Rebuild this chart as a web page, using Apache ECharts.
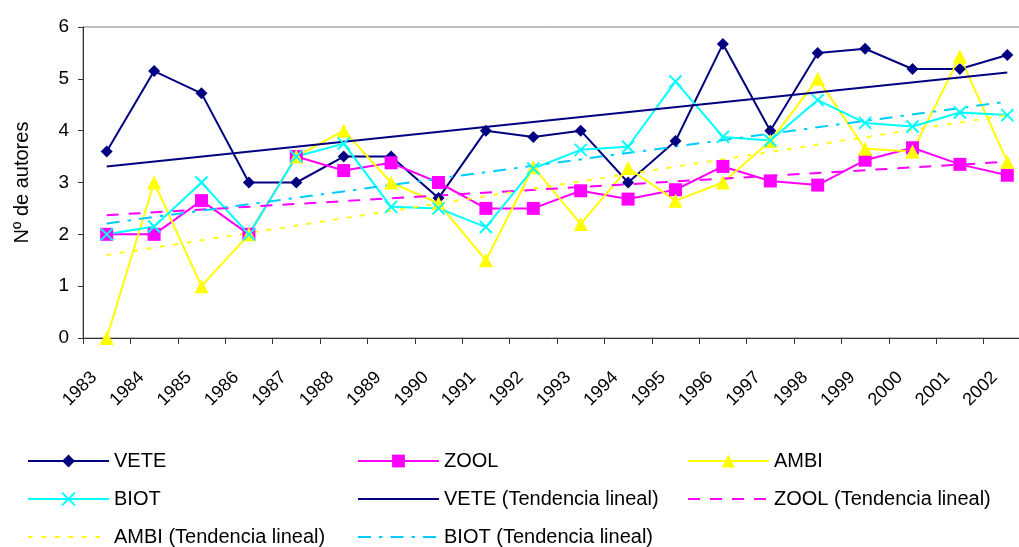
<!DOCTYPE html>
<html>
<head>
<meta charset="utf-8">
<script src="https://cdn.jsdelivr.net/npm/echarts@6/dist/echarts.min.js"></script>
<style>
html,body{margin:0;padding:0;background:#fff;}
#chart{width:1019px;height:547px;}
</style>
</head>
<body>
<div id="chart"></div>
<script>
var years = ['1983','1984','1985','1986','1987','1988','1989','1990','1991','1992','1993','1994','1995','1996','1997','1998','1999','2000','2001','2002'];
var vete = [3.6, 5.15, 4.72, 3.0, 3.0, 3.5, 3.5, 2.7, 4.0, 3.88, 4.0, 3.0, 3.8, 5.67, 4.0, 5.5, 5.58, 5.19, 5.19, 5.46];
var zool = [2.0, 2.0, 2.65, 2.0, 3.5, 3.23, 3.38, 3.0, 2.5, 2.5, 2.84, 2.68, 2.86, 3.31, 3.03, 2.95, 3.43, 3.67, 3.35, 3.14];
var ambi = [0.0, 3.0, 1.0, 2.0, 3.5, 4.0, 3.0, 2.6, 1.5, 3.3, 2.2, 3.28, 2.65, 3.0, 3.8, 5.0, 3.65, 3.6, 5.43, 3.4];
var biot = [2.0, 2.15, 3.0, 2.0, 3.5, 3.75, 2.53, 2.5, 2.14, 3.27, 3.63, 3.69, 4.95, 3.88, 3.81, 4.59, 4.15, 4.08, 4.35, 4.3];
// trend line end points (1983, 2002)
var veteTrend = [3.31, 5.12];
var zoolTrend = [2.37, 3.40];
var ambiTrend = [1.60, 4.30];
var biotTrend = [2.21, 4.56];
var yTicks = {min: 0, max: 6, interval: 1};
var seriesNames = ['VETE','ZOOL','AMBI','BIOT','VETE (Tendencia lineal)','ZOOL (Tendencia lineal)','AMBI (Tendencia lineal)','BIOT (Tendencia lineal)'];

var FONT = '"Liberation Sans", Arial, sans-serif';
function trend(pair){ return [[0, pair[0]], [years.length - 1, pair[1]]]; }

var legendCols = [27, 357, 687];
var legendRows = [461, 499, 537];
var legends = seriesNames.map(function(n, i){
  var isTrend = i >= 4;
  return {
    data: [n],
    left: legendCols[i % 3],
    top: legendRows[Math.floor(i / 3)] - 10,
    orient: 'horizontal',
    padding: 0,
    itemWidth: 81,
    itemHeight: 16,
    itemGap: 0,
    selectedMode: false,
    itemStyle: isTrend ? {opacity: 0} : {},
    textStyle: {fontFamily: FONT, fontSize: 20, color: '#000', padding: [0,0,0,0]}
  };
});

var xSym = 'path://M0,0L10,10M10,0L0,10';

var option = {
  animation: false,
  backgroundColor: '#fff',
  grid: {left: 83, top: 27, right: -12, bottom: 209, show: true, borderColor: '#808080', borderWidth: 1,
         containLabel: false, outerBoundsMode: 'none'},
  legend: legends,
  xAxis: {
    type: 'category',
    data: years,
    boundaryGap: true,
    axisLine: {show: true, lineStyle: {color: '#333', width: 1}},
    axisTick: {show: true, length: 6, lineStyle: {color: '#333'}},
    axisLabel: {rotate: 45, interval: 0, margin: 24, padding: [0, 18, 0, 0], fontFamily: FONT, fontSize: 18, color: '#000'},
    splitLine: {show: false}
  },
  yAxis: {
    type: 'value',
    min: yTicks.min, max: yTicks.max, interval: yTicks.interval,
    name: 'Nº de autores',
    nameLocation: 'middle',
    nameGap: 51,
    nameTextStyle: {fontFamily: FONT, fontSize: 20, color: '#000'},
    axisLine: {show: true, lineStyle: {color: '#333', width: 1}},
    axisTick: {show: true, length: 5, lineStyle: {color: '#333'}},
    axisLabel: {margin: 14, fontFamily: FONT, fontSize: 19, color: '#000'},
    splitLine: {show: false}
  },
  series: [
    {name: 'VETE', type: 'line', data: vete, symbol: 'diamond', symbolSize: 12, showAllSymbol: true,
     lineStyle: {color: '#000080', width: 2}, itemStyle: {color: '#000080'}},
    {name: 'ZOOL', type: 'line', data: zool, symbol: 'rect', symbolSize: 13, showAllSymbol: true,
     lineStyle: {color: '#FF00FF', width: 2}, itemStyle: {color: '#FF00FF'}},
    {name: 'AMBI', type: 'line', data: ambi, symbol: 'triangle', symbolSize: 14, showAllSymbol: true,
     lineStyle: {color: '#FFFF00', width: 2}, itemStyle: {color: '#FFFF00'}},
    {name: 'BIOT', type: 'line', data: biot, symbol: xSym, symbolSize: 12, showAllSymbol: true,
     lineStyle: {color: '#00FFFF', width: 2}, itemStyle: {color: '#00FFFF', borderColor: '#00FFFF', borderWidth: 2}},
    {name: 'VETE (Tendencia lineal)', type: 'line', data: trend(veteTrend), symbol: 'none',
     lineStyle: {color: '#000080', width: 2, type: 'solid'}, itemStyle: {color: '#000080'}},
    {name: 'ZOOL (Tendencia lineal)', type: 'line', data: trend(zoolTrend), symbol: 'none',
     lineStyle: {color: '#FF00FF', width: 2, type: [12, 10]}, itemStyle: {color: '#FF00FF'}},
    {name: 'AMBI (Tendencia lineal)', type: 'line', data: trend(ambiTrend), symbol: 'none',
     lineStyle: {color: '#FFFF00', width: 2, type: [4.5, 9]}, itemStyle: {color: '#FFFF00'}},
    {name: 'BIOT (Tendencia lineal)', type: 'line', data: trend(biotTrend), symbol: 'none',
     lineStyle: {color: '#00CCFF', width: 2, type: [13, 8, 3.5, 8]}, itemStyle: {color: '#00CCFF'}}
  ]
};
var chart = echarts.init(document.getElementById('chart'), null, {renderer: 'canvas'});
chart.setOption(option);
</script>
</body>
</html>
